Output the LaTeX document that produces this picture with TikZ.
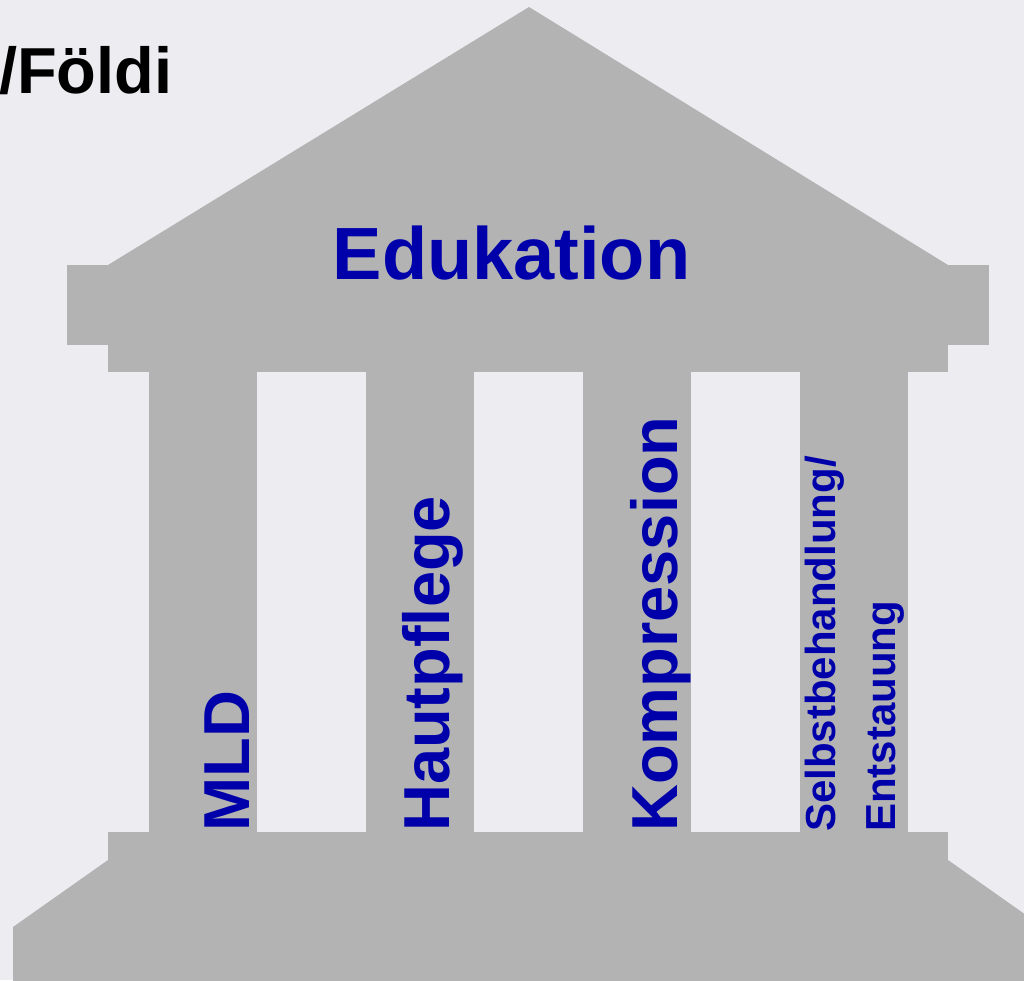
\documentclass[tikz,border=0pt]{standalone}
\usepackage{fontspec}
\setmainfont{Liberation Sans}
\usepackage{tikz}

\definecolor{wall}{RGB}{237,236,241}
\definecolor{stone}{RGB}{179,179,179}
\definecolor{darkblue}{RGB}{0,0,170}

\tikzset{
	pillarlabel/.style={rotate=90, anchor=base west, inner sep=0pt, text=darkblue,
		font=\bfseries\fontsize{65}{78}\selectfont},
	smalllabel/.style={pillarlabel, font=\bfseries\fontsize{42}{50}\selectfont},
}

\begin{document}
\begin{tikzpicture}[x=1pt, y=-1pt]
	\useasboundingbox (0,0) rectangle (1024,980);
	\fill[wall] (0,0) rectangle (1024,980);
	\clip (0,0) rectangle (1024,980);
	
	% roof, beam and steps
	\fill[stone] (108,265) -- (529,7) -- (948,265) -- cycle;
	\fill[stone] (67,265) rectangle (989,345);
	\fill[stone] (108,345) rectangle (948,372);
	\fill[stone] (108,832) rectangle (948,860);
	\fill[stone] (108,860) -- (13,927) -- (13,990) -- (1043,990) -- (1043,927) -- (948,860) -- cycle;
	
	% columns
	\foreach \x in {149,366,583,800}
		\fill[stone] (\x,372) rectangle ++(108,460);
	
	\node[anchor=base west, inner sep=0pt, font=\bfseries\fontsize{65}{78}\selectfont] (author) at (-1,93) {/Földi};
	\node[anchor=base, inner sep=0pt, text=darkblue, font=\bfseries\fontsize{74}{89}\selectfont] (edu) at (511.5,279) {Edukation};
	
	\node[pillarlabel] (mld) at (249,832) {MLD};
	\node[pillarlabel] (skin) at (449,832) {Hautpflege};
	\node[pillarlabel] (comp) at (677.5,832) {Kompression};
	\node[smalllabel] (self) at (835,832) {Selbstbehandlung/};
	\node[smalllabel] (drain) at (895,832) {Entstauung};
\end{tikzpicture}
\end{document}
